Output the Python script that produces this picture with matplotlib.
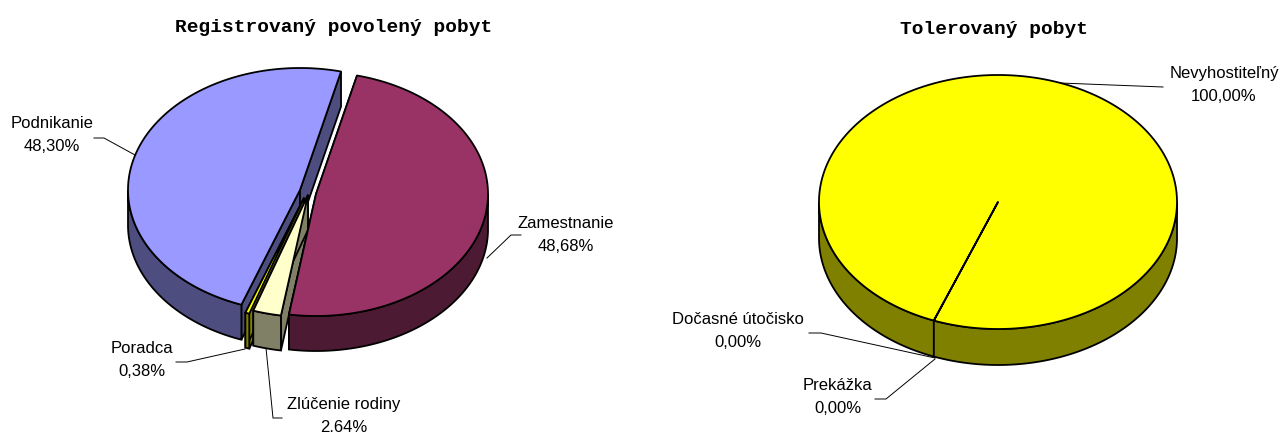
import numpy as np
import matplotlib
matplotlib.use("Agg")
import matplotlib.pyplot as plt
from matplotlib.patches import Polygon

plt.rcParams['font.family'] = ['Liberation Sans', 'DejaVu Sans']

left_title = "Registrovaný povolený pobyt"
left_names = ["Zamestnanie", "Zlúčenie rodiny", "Poradca", "Podnikanie"]
left_values = [48.68, 2.64, 0.38, 48.30]
left_percents = ["48,68%", "2.64%", "0,38%", "48,30%"]
left_tops = ["#993366", "#FFFFCC", "#FFFF00", "#9999FF"]
left_walls = ["#4D1A33", "#808066", "#808000", "#4D4D80"]

right_title = "Tolerovaný pobyt"
right_names = ["Nevyhostiteľný", "Dočasné útočisko", "Prekážka"]
right_values = [100.0, 0.0, 0.0]
right_percents = ["100,00%", "0,00%", "0,00%"]
right_tops = ["#FFFF00", "#FFFF00", "#FFFF00"]
right_walls = ["#808000", "#808000", "#808000"]

LW = 1.3


def edge_point(c, rx, ry, angle):
    # angle is clockwise from the top of the ellipse
    t = np.radians(angle)
    return c[0] + rx * np.sin(t), c[1] - ry * np.cos(t)


def arc(c, rx, ry, a0, a1):
    n = max(2, int(abs(a1 - a0)) * 2)
    t = np.radians(np.linspace(a0, a1, n))
    return np.column_stack([c[0] + rx * np.sin(t), c[1] - ry * np.cos(t)])


def draw_slice(ax, c, rx, ry, depth, a0, a1, top, wall, z):
    # cut faces first, only the ones turned to the viewer show
    for a in (a0, a1):
        x, y = edge_point(c, rx, ry, a)
        pts = [c, (x, y), (x, y + depth), (c[0], c[1] + depth)]
        ax.add_patch(Polygon(pts, fc=wall, ec="black", lw=LW, zorder=z))
    # outer wall on the front half
    for k in (0, 1):
        s = max(a0, 90 + 360 * k)
        e = min(a1, 270 + 360 * k)
        if e > s:
            rim = arc(c, rx, ry, s, e)
            low = rim[::-1] + [0, depth]
            ax.add_patch(Polygon(np.vstack([rim, low]), fc=wall, ec="black", lw=LW, zorder=z))
    pts = np.vstack([[c], arc(c, rx, ry, a0, a1)])
    ax.add_patch(Polygon(pts, fc=top, ec="black", lw=LW, zorder=z, joinstyle="round"))


def draw_pie(ax, values, tops, walls, start, centers, rx, ry, depth, order):
    angles = start + np.concatenate([[0], np.cumsum(values)]) * 3.6
    for z, i in enumerate(order):
        draw_slice(ax, centers[i], rx, ry, depth, angles[i], angles[i + 1], tops[i], walls[i], 2 + z)


fig = plt.figure(figsize=(12.84, 4.34), dpi=100)
ax = fig.add_axes([0, 0, 1, 1])
ax.set_xlim(0, 1284)
ax.set_ylim(434, 0)
ax.axis("off")

left_centers = [(316, 194), (308, 195), (304, 198), (300, 190)]
draw_pie(ax, left_values, left_tops, left_walls, 13.8, left_centers, 172, 122, 35, [3, 2, 1, 0])

# zero slices on the right share one spoke, so only the big one gets drawn
draw_pie(ax, right_values[:1], right_tops, right_walls, 201, [(998, 202)], 179, 127, 36, [0])

ax.text(334, 28, left_title, family="Liberation Mono", weight="bold", fontsize=14, ha="center", va="center")
ax.text(994, 29, right_title, family="Liberation Mono", weight="bold", fontsize=14, ha="center", va="center")

labels = [
    (52, 135, left_names[3], left_percents[3]),
    (566, 235, left_names[0], left_percents[0]),
    (142, 360, left_names[2], left_percents[2]),
    (344, 416, left_names[1], left_percents[1]),
    (1224, 85, right_names[0], right_percents[0]),
    (738, 331, right_names[1], right_percents[1]),
    (838, 397, right_names[2], right_percents[2]),
]
for x, y, name, pct in labels:
    ax.text(x, y, name + "\n" + pct, fontsize=12, ha="center", va="center", linespacing=1.7, zorder=10)

leaders = [
    [(94, 138), (104, 138), (135, 155)],
    [(521, 235), (511, 235), (487, 258)],
    [(176, 362), (187, 362), (245, 349)],
    [(266, 348), (273, 418), (282, 418)],
    [(1060, 83), (1163, 87)],
    [(809, 333), (821, 333), (935, 358)],
    [(875, 399), (886, 399), (935, 359)],
]
for pts in leaders:
    ax.plot([p[0] for p in pts], [p[1] for p in pts], color="black", lw=0.7, zorder=1)

fig.savefig("out.png", dpi=100)
